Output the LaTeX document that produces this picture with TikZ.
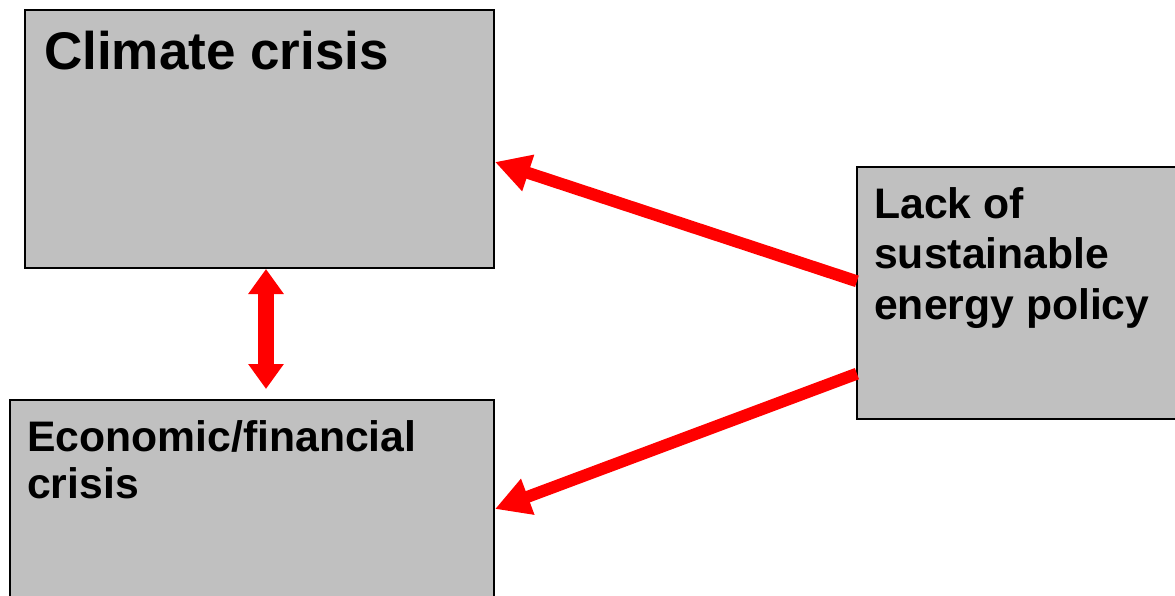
\documentclass[tikz,border=0pt]{standalone}
\usepackage{fontspec}
\setmainfont{Liberation Sans}
\usetikzlibrary{arrows.meta}
\definecolor{boxgray}{HTML}{C0C0C0}
\definecolor{arrred}{HTML}{FF0000}
\tikzset{
  crisisbox/.style={draw=black, line width=2pt, fill=boxgray, rectangle, inner sep=0pt, anchor=north west},
  boxtext/.style={inner sep=0pt, anchor=base west, align=left, font=\bfseries},
  redarrow/.style={draw=arrred, line width=12pt, -{Triangle[length=35pt,width=36pt]}},
  dblarrow/.style={draw=arrred, line width=16pt, {Triangle[length=25pt,width=34pt]}-{Triangle[length=25pt,width=34pt]}}
}
\begin{document}
\begin{tikzpicture}[x=1pt,y=-1pt]
\clip (0,0) rectangle (1175,596);
\fill[white] (0,0) rectangle (1175,596);
% boxes
\node[crisisbox, minimum width=469pt, minimum height=258pt] (climate) at (24,9) {};
\node[crisisbox, minimum width=484pt, minimum height=230pt] (econ) at (9,399) {};
\node[crisisbox, minimum width=340pt, minimum height=252pt] (lack) at (856,166) {};
% texts (base anchor = baseline of last line)
\node[boxtext, font=\bfseries\fontsize{53}{61}\selectfont] (climatetext) at (44,70) {Climate crisis};
\node[boxtext, font=\bfseries\fontsize{42.7}{47}\selectfont] (econtext) at (27,498) {Economic/financial\\crisis};
\node[boxtext, font=\bfseries\fontsize{42.7}{50.5}\selectfont] (lacktext) at (874,319) {Lack of\\sustainable\\energy policy};
% connector anchor points
\coordinate (lackA) at (lack.west |- 0,281);
\coordinate (lackB) at (lack.west |- 0,374);
\coordinate (climR) at (climate.east |- 0,162);
\coordinate (econR) at (econ.east |- 0,509);
\coordinate (dtop) at (climate.south -| 266,0);
\coordinate (dbot) at (econ.north -| 266,0);
% arrows
\draw[redarrow, shorten <=-1pt] (lackA) -- (climR);
\draw[redarrow, shorten <=-1pt] (lackB) -- (econR);
\draw[dblarrow, shorten >=10pt] (dtop) -- (dbot);
\end{tikzpicture}
\end{document}
